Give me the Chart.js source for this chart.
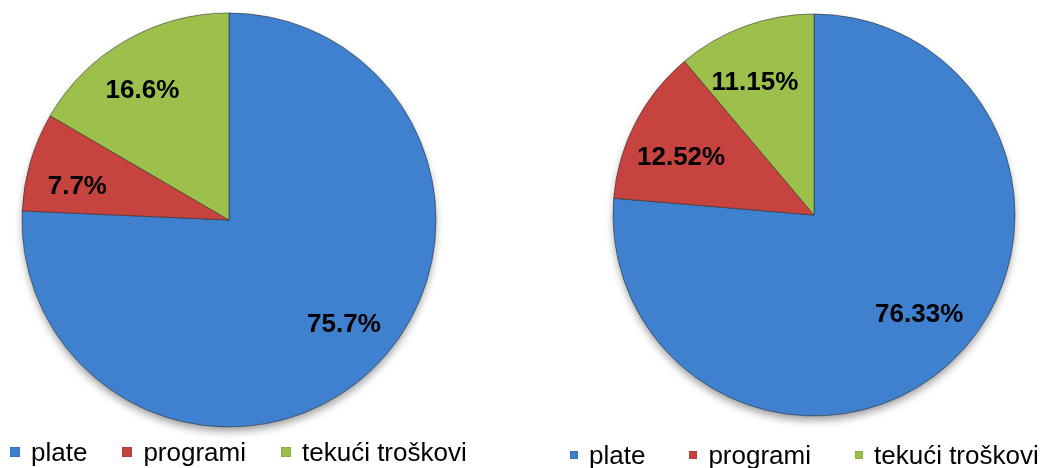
<!DOCTYPE html>
<html>
<head>
<meta charset="utf-8">
<script src="https://cdn.jsdelivr.net/npm/chart.js@4"></script>
<style>
  body { margin: 0; background: #fff; }
  #wrap { position: relative; width: 1047px; height: 468px; overflow: hidden; font-family: "Liberation Sans", Arial, sans-serif; }
  .pie { position: absolute; top: 0; }
  .legend { position: absolute; display: flex; align-items: center; font-size: 26px; line-height: 26px; color: #000; white-space: nowrap; }
  .legend .item { display: flex; align-items: center; }
  .legend .box { display: inline-block; margin-right: 11px; }
</style>
</head>
<body>
<div id="wrap">
  <div class="pie" style="left:0px;width:458px;height:440px;"><canvas id="pieLeft"></canvas></div>
  <div class="pie" style="left:600px;width:428px;height:430px;"><canvas id="pieRight"></canvas></div>
  <div class="legend" id="legendLeft" style="left:10px;top:439px;"></div>
  <div class="legend" id="legendRight" style="left:570px;top:442px;"></div>
</div>
<script>
var categories = ["plate", "programi", "tekući troškovi"];
var valuesLeft = [75.7, 7.7, 16.6];
var valuesRight = [76.33, 12.52, 11.15];

var sliceColors = ["#3f80cf", "#c6433f", "#9cc04b"];
var rimColors = ["#2c5f9e", "#9a2f2c", "#74922f"];

// slice fill: flat colour with darker rim like the bevel in the original
function sliceFill(ctx) {
  var chart = ctx.chart;
  var el = chart.getDatasetMeta(0).data[ctx.dataIndex];
  if (!el || !el.outerRadius) return sliceColors[ctx.dataIndex];
  var g = chart.ctx.createRadialGradient(el.x, el.y, 0, el.x, el.y, el.outerRadius);
  g.addColorStop(0, sliceColors[ctx.dataIndex]);
  g.addColorStop(0.95, sliceColors[ctx.dataIndex]);
  g.addColorStop(1, rimColors[ctx.dataIndex]);
  return g;
}

// soft shadow under the whole pie
var pieShadow = {
  id: "pieShadow",
  beforeDatasetsDraw: function(chart) {
    var arc = chart.getDatasetMeta(0).data[0];
    if (!arc) return;
    var ctx = chart.ctx;
    ctx.save();
    ctx.shadowColor = "rgba(0,0,0,0.4)";
    ctx.shadowBlur = 8;
    ctx.shadowOffsetY = 5;
    ctx.fillStyle = "#fff";
    ctx.beginPath();
    ctx.arc(arc.x, arc.y, arc.outerRadius - 1, 0, Math.PI * 2);
    ctx.fill();
    ctx.restore();
  }
};

// percentage labels inside the slices
var pctLabels = {
  id: "pctLabels",
  afterDatasetsDraw: function(chart) {
    var ctx = chart.ctx;
    var meta = chart.getDatasetMeta(0);
    var vals = chart.data.datasets[0].data;
    var k = chart.options.labelRadius || 0.75;
    ctx.save();
    ctx.font = "bold 26px 'Liberation Sans', Arial, sans-serif";
    ctx.fillStyle = "#000";
    ctx.textAlign = "center";
    ctx.textBaseline = "middle";
    meta.data.forEach(function(arc, i) {
      var mid = (arc.startAngle + arc.endAngle) / 2 - 0.07;
      var r = arc.outerRadius * k;
      ctx.fillText(vals[i] + "%", arc.x + Math.cos(mid) * r, arc.y + Math.sin(mid) * r);
    });
    ctx.restore();
  }
};

function makePie(id, values, radius, labelRadius) {
  return new Chart(id, {
    type: "pie",
    data: {
      labels: categories,
      datasets: [{
        data: values,
        backgroundColor: sliceFill,
        borderColor: "rgba(40,40,40,0.55)",
        borderWidth: 1
      }]
    },
    options: {
      responsive: true,
      maintainAspectRatio: false,
      animation: false,
      radius: radius,
      labelRadius: labelRadius,
      plugins: {
        legend: { display: false },
        tooltip: { enabled: false }
      }
    },
    plugins: [pieShadow, pctLabels]
  });
}

makePie("pieLeft", valuesLeft, 207, 0.75);
makePie("pieRight", valuesRight, 201, 0.72);

function makeLegend(id, boxSize, gap) {
  var el = document.getElementById(id);
  categories.forEach(function(name, i) {
    var item = document.createElement("span");
    item.className = "item";
    if (i > 0) item.style.marginLeft = gap + "px";
    var box = document.createElement("span");
    box.className = "box";
    box.style.width = boxSize + "px";
    box.style.height = boxSize + "px";
    box.style.background = sliceColors[i];
    box.style.boxShadow = "inset 0 0 2px " + rimColors[i];
    var txt = document.createElement("span");
    txt.textContent = name;
    item.appendChild(box);
    item.appendChild(txt);
    el.appendChild(item);
  });
}
makeLegend("legendLeft", 10, 35);
makeLegend("legendRight", 8, 44);
</script>
</body>
</html>
